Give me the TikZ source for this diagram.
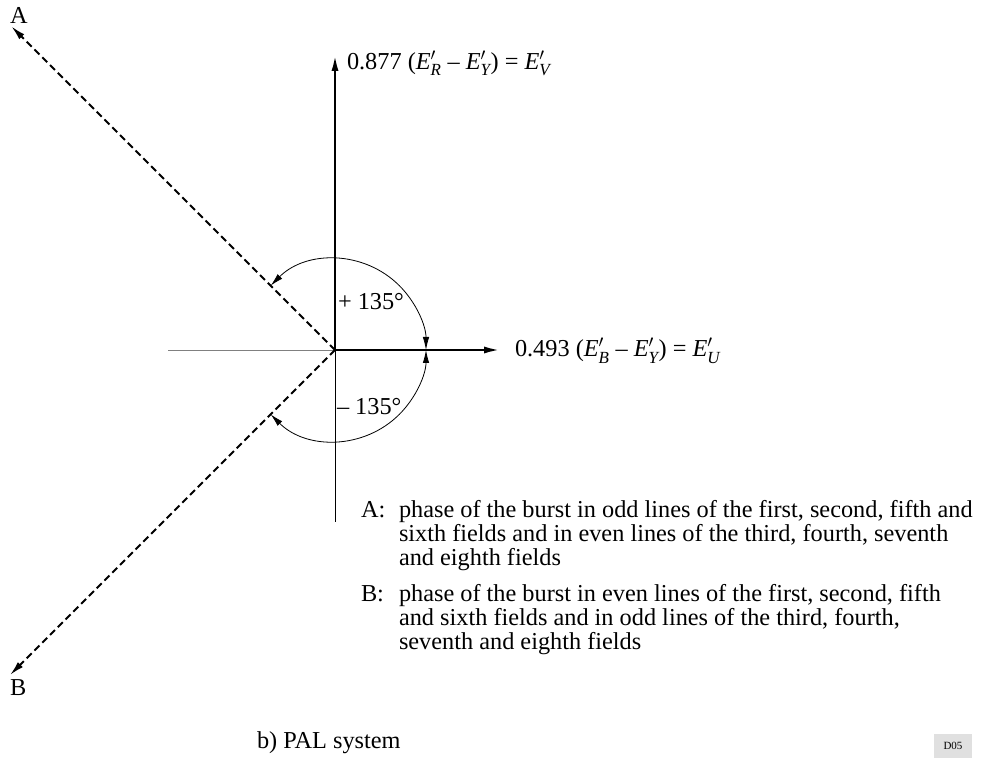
\documentclass[tikz,border=0pt]{standalone}
\usepackage{amsmath}
\usepackage{fontspec}
\setmainfont{Liberation Serif}
\usetikzlibrary{arrows.meta,calc}
\newcommand{\Ep}[1]{\textit{E}$^{\prime}_{\text{\itshape #1}}$}
\begin{document}
\begin{tikzpicture}[x=1pt,y=1pt,
  every node/.style={inner sep=0pt,outer sep=0pt,font=\fontsize{24.3}{23.7}\selectfont},
  axis/.style={line width=2.6pt,-{Latex[length=17pt,width=7pt]}},
  thinaxis/.style={line width=0.9pt},
  burst/.style={line width=2pt,dash pattern=on 7pt off 4pt,-{Latex[length=15pt,width=7pt]}},
  anglearc/.style={line width=0.8pt,{Latex[length=13pt,width=6.5pt]}-{Latex[length=13pt,width=6.5pt]}},
  txt/.style={anchor=base west}]
\useasboundingbox (0,0) rectangle (982,764);
% geometry
\coordinate (O) at (335,414);
\coordinate (Vtip) at (335,710);
\coordinate (Utip) at (501,414);
\coordinate (Lend) at (168,414);
\coordinate (Dend) at (335,242);
\coordinate (Atip) at ($(O)+(135:458)$);
\coordinate (Btip) at ($(O)+(-135:460)$);
\coordinate (a135) at ($(O)+(135:91)$);
\coordinate (bm135) at ($(O)+(-135:91)$);
% thin axes
\draw[thinaxis,gray] (O) -- (Lend);
\draw[thinaxis] (O) -- (Dend);
% burst phases
\draw[burst] (O) -- (Atip);
\draw[burst] (O) -- (Btip);
% main axes
\draw[axis] (O) -- (Vtip);
\draw[axis] (O) -- (Utip);
% arcs
\draw[anglearc] (a135) arc[start angle=135,end angle=0,radius=91];
\draw[anglearc] (bm135) arc[start angle=-135,end angle=0,radius=91];
% labels
\node[txt] (lblV) at (347,694.5) {0.877 (\Ep{R} -- \Ep{Y}) = \Ep{V}};
\node[txt] (lblU) at (515,407) {0.493 (\Ep{B} -- \Ep{Y}) = \Ep{U}};
\node[txt] (plus) at (338,454) {+ 135°};
\node[txt] (minus) at (337,349) {-- 135°};
\node[txt] (lblA) at (10,740) {A};
\node[txt] (lblB) at (10,69) {B};
% legend
\node[txt] (keyA) at (361,246.5) {A:};
\node[txt] (a1) at (399,246.5) {phase of the burst in odd lines of the first, second, fifth and};
\node[txt] (a2) at (399,223) {sixth fields and in even lines of the third, fourth, seventh};
\node[txt] (a3) at (399,199) {and eighth fields};
\node[txt] (keyB) at (361,163) {B:};
\node[txt] (b1) at (399,163) {phase of the burst in even lines of the first, second, fifth};
\node[txt] (b2) at (399,139) {and sixth fields and in odd lines of the third, fourth,};
\node[txt] (b3) at (399,115) {seventh and eighth fields};
\node[txt] (cap) at (257,16) {b) PAL system};
\node[fill=black!12,minimum width=38pt,minimum height=24pt,font=\fontsize{11}{12}\selectfont] (d05) at (953,18) {D05};
\end{tikzpicture}
\end{document}
